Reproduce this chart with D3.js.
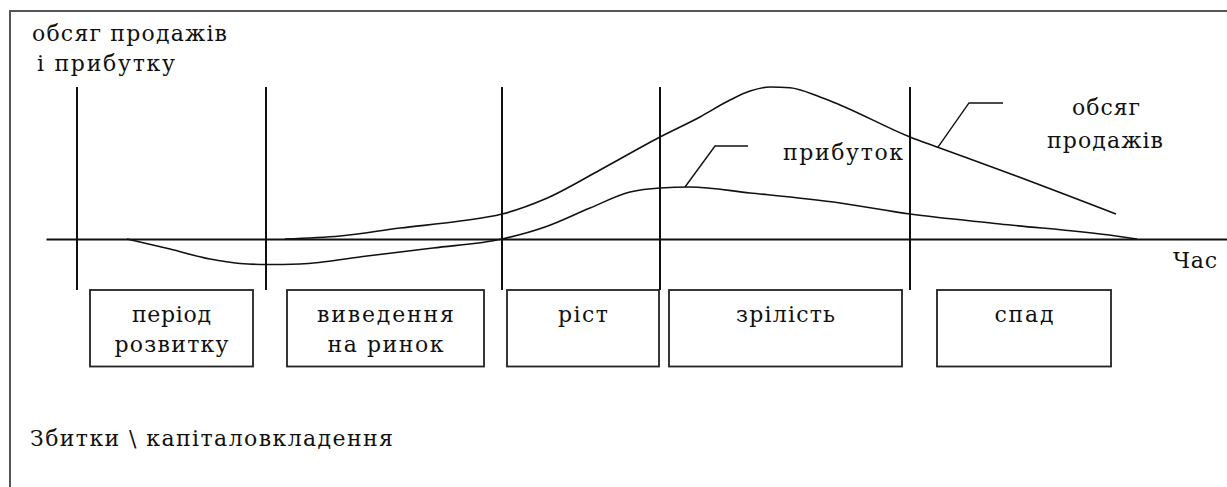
<!DOCTYPE html>
<html>
<head>
<meta charset="utf-8">
<script src="https://cdn.jsdelivr.net/npm/d3@7/dist/d3.min.js"></script>
<style>
  html, body { margin: 0; padding: 0; background: #fff; }
  svg { display: block; }
  text { font-family: "DejaVu Serif", serif; font-size: 22px; fill: #111; }
</style>
</head>
<body>
<script>
// життєвий цикл товару: час у довільних одиницях, обсяг у відсотках від піку продажів
const phaseBounds = [31, 220, 456, 614, 864];

const salesT = [239, 294, 354, 414, 456, 499, 554, 614, 654, 684, 704, 724, 744, 774, 794, 864, 891, 954, 1070];
const salesV = [0, 2.0, 7.2, 11.8, 16.4, 26.3, 45.4, 67.1, 80.3, 91.4, 97.3, 100, 99.5, 93.4, 88.2, 67.1, 60.5, 45.4, 16.4];

const profitT = [81, 124, 164, 194, 220, 254, 321, 387, 456, 499, 544, 584, 614, 644, 704, 794, 864, 954, 1070, 1091];
const profitV = [0, -6.6, -13.2, -16.1, -16.8, -16.4, -11.2, -5.9, 0, 7.9, 20.4, 30.9, 33.6, 34.2, 30.3, 23.7, 16.4, 9.9, 2.0, 0];

const stageNames = [["період", "розвитку"], ["виведення", "на ринок"], ["ріст"], ["зрілість"], ["спад"]];
const stageFrom = [44, 241, 461, 623, 891];
const stageTo = [207, 438, 613, 856, 1065];

// виноски до кривих: [t, v] точки ламаної
const profitLeader = [[639, 34.2], [669, 61.2], [702, 61.2]];
const salesLeader = [[892, 60.5], [923, 89.5], [957, 89.5]];

const WIDTH = 1227
const HEIGHT = 487

const svg = d3.select("body").append("svg")
  .attr("width", WIDTH)
  .attr("height", HEIGHT)

const x = d3.scaleLinear().domain([0, 1181]).range([46, 1227])
const y = d3.scaleLinear().domain([0, 100]).range([239, 87])

// рамка (ліва і верхня сторони)
svg.append("path")
  .attr("d", "M10,487 V11 H1227")
  .attr("fill", "none")
  .attr("stroke", "#555")
  .attr("stroke-width", 2)

// вісь часу
const axis = svg.append("g")
  .attr("transform", "translate(0," + y(0) + ")")
  .call(d3.axisBottom(x).ticks(0).tickSizeOuter(0))
axis.select(".domain").attr("stroke", "#111").attr("stroke-width", 2)

// межі етапів
const boxTop = 290, boxBottom = 366.5
svg.selectAll(".phase")
  .data(phaseBounds)
  .enter().append("line")
  .attr("class", "phase")
  .attr("x1", d => x(d)).attr("x2", d => x(d))
  .attr("y1", y(100)).attr("y2", boxTop)
  .attr("stroke", "#111")
  .attr("stroke-width", 2)

const line = d3.line()
  .x(d => x(d[0]))
  .y(d => y(d[1]))
  .curve(d3.curveMonotoneX)

const salesData = salesT.map((t, i) => [t, salesV[i]])
const profitData = profitT.map((t, i) => [t, profitV[i]])

svg.append("path")
  .attr("d", line(salesData))
  .attr("fill", "none")
  .attr("stroke", "#111")
  .attr("stroke-width", 1.6)

svg.append("path")
  .attr("d", line(profitData))
  .attr("fill", "none")
  .attr("stroke", "#111")
  .attr("stroke-width", 1.6)

const leader = d3.line().x(d => x(d[0])).y(d => y(d[1]))
;[profitLeader, salesLeader].forEach(function(pts) {
  svg.append("path")
    .attr("d", leader(pts))
    .attr("fill", "none")
    .attr("stroke", "#111")
    .attr("stroke-width", 1.4)
})

// підписи
function label(txt, px, py, len, anchor) {
  return svg.append("text")
    .attr("x", px)
    .attr("y", py)
    .attr("text-anchor", anchor || "start")
    .attr("textLength", len)
    .attr("lengthAdjust", "spacing")
    .text(txt)
}

label("обсяг продажів", 32, 41, 195)
label("і прибутку", 37, 71, 138)
label("прибуток", 783, 160, 120)
label("обсяг", 1106, 115, 68, "middle")
label("продажів", 1105, 148, 116, "middle")
label("Час", 1173, 268, 44)
label("Збитки \\ капіталовкладення", 30, 446, 363)

// блоки етапів
const stageLens = [[79, 114], [137, 116], [50], [99], [59]]
const boxes = svg.selectAll(".stage")
  .data(stageNames)
  .enter().append("g")
  .attr("class", "stage")

boxes.append("rect")
  .attr("x", (d, i) => x(stageFrom[i]))
  .attr("y", boxTop)
  .attr("width", (d, i) => x(stageTo[i]) - x(stageFrom[i]))
  .attr("height", boxBottom - boxTop)
  .attr("fill", "#fff")
  .attr("stroke", "#222")
  .attr("stroke-width", 1.8)

stageNames.forEach(function(lines, i) {
  const cx = (x(stageFrom[i]) + x(stageTo[i])) / 2
  lines.forEach(function(s, j) {
    label(s, cx, 322 + j * 30, stageLens[i][j], "middle")
  })
})
</script>
</body>
</html>
